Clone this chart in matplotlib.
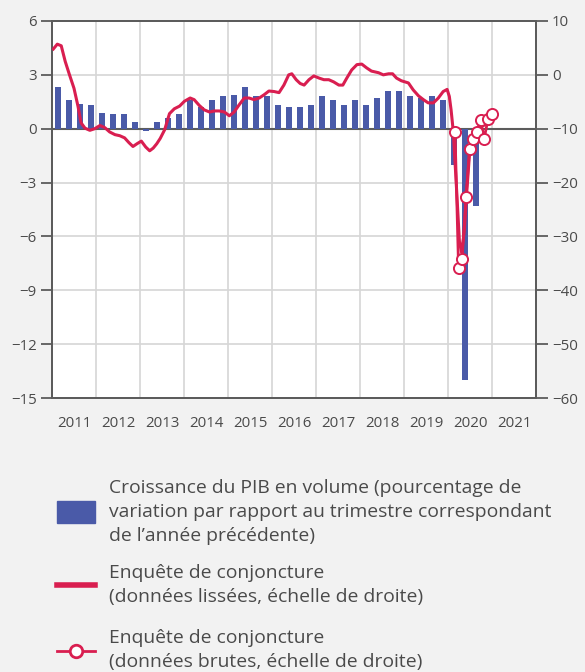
import matplotlib
import matplotlib.pyplot as plt
import numpy as np
from matplotlib.patches import Rectangle
from matplotlib.lines import Line2D

plt.switch_backend('agg')
matplotlib.rcParams['font.family'] = ['Open Sans', 'DejaVu Sans']

# GDP growth, quarterly, 2011Q1 - 2020Q3 (left scale, %)
gdp_start = 2011
gdp_growth = [2.3, 1.6, 1.4, 1.3,
              0.9, 0.8, 0.8, 0.4,
              -0.1, 0.4, 0.6, 0.8,
              1.6, 1.2, 1.6, 1.8,
              1.9, 2.3, 1.8, 1.8,
              1.3, 1.2, 1.2, 1.3,
              1.8, 1.6, 1.3, 1.6,
              1.3, 1.7, 2.1, 2.1,
              1.8, 1.7, 1.8, 1.6,
              -2.0, -14.0, -4.3]

# business survey, smoothed (right scale)
smooth_t = [2011.03, 2011.12, 2011.21, 2011.30, 2011.39, 2011.50, 2011.59, 2011.66, 2011.75, 2011.86,
            2011.97, 2012.09, 2012.20, 2012.31, 2012.43, 2012.54, 2012.65, 2012.75, 2012.84, 2012.93,
            2013.03, 2013.13, 2013.22, 2013.30, 2013.38, 2013.46, 2013.56, 2013.67, 2013.78, 2013.90,
            2014.01, 2014.14, 2014.23, 2014.35, 2014.46, 2014.58, 2014.69, 2014.80, 2014.92, 2015.03,
            2015.14, 2015.25, 2015.37, 2015.48, 2015.59, 2015.71, 2015.82, 2015.93, 2016.05, 2016.16,
            2016.27, 2016.38, 2016.45, 2016.55, 2016.64, 2016.73, 2016.84, 2016.95, 2017.07, 2017.18,
            2017.29, 2017.40, 2017.52, 2017.61, 2017.70, 2017.81, 2017.93, 2018.04, 2018.15, 2018.26,
            2018.42, 2018.53, 2018.65, 2018.74, 2018.83, 2018.94, 2019.10, 2019.21, 2019.33, 2019.44,
            2019.55, 2019.67, 2019.78, 2019.89, 2019.98, 2020.03, 2020.07, 2020.12, 2020.20, 2020.26,
            2020.31, 2020.37, 2020.42, 2020.49, 2020.57, 2020.66, 2020.75, 2020.83]
smooth_v = [4.8, 5.7, 5.4, 2.5, 0.2, -2.5, -5.8, -8.9, -9.9, -10.3,
            -10.0, -9.4, -9.8, -10.6, -11.1, -11.3, -11.7, -12.6, -13.3, -12.8,
            -12.3, -13.4, -14.1, -13.6, -12.8, -11.8, -10.2, -7.2, -6.3, -5.8,
            -4.9, -4.3, -4.6, -5.7, -6.5, -6.9, -6.7, -6.7, -6.9, -7.6,
            -6.9, -5.6, -4.3, -4.3, -4.6, -4.3, -3.7, -3.0, -3.1, -3.3,
            -1.9, 0.0, 0.2, -0.9, -1.6, -1.9, -0.9, -0.2, -0.6, -0.9,
            -0.9, -1.3, -1.9, -1.9, -0.6, 0.9, 1.9, 2.0, 1.3, 0.7,
            0.4, 0.0, 0.2, 0.2, -0.6, -1.1, -1.5, -2.8, -3.9, -4.6,
            -5.2, -5.2, -4.3, -3.1, -2.7, -4.0, -6.5, -10.5, -22.0, -31.0,
            -33.0, -29.0, -22.5, -14.5, -12.0, -10.6, -9.6, -9.3]

# business survey, raw monthly Mar 2020 - Jan 2021 (right scale)
raw_t = [2020.16, 2020.24, 2020.32, 2020.41, 2020.49, 2020.57, 2020.66, 2020.74, 2020.82, 2020.91, 2020.99]
raw_v = [-10.7, -35.9, -34.2, -22.7, -13.7, -11.9, -10.6, -8.3, -11.9, -8.2, -7.3]

years = list(range(2011, 2022))
left_ticks = [-15, -12, -9, -6, -3, 0, 3, 6]
right_ticks = [-60, -50, -40, -30, -20, -10, 0, 10]

blue = '#4a5aa8'
red = '#d91e50'
grey_txt = '#4a4a4a'
spine_c = '#5c5c5c'
grid_c = '#d6d6d6'

W, H = 585, 672
fig = plt.figure(figsize=(W / 100, H / 100), dpi=100, facecolor='#f2f2f2')
ax = fig.add_axes([52 / W, 1 - 398 / H, (536 - 52) / W, (398 - 21) / H])
ax.set_facecolor('white')

gdp_x = gdp_start + (np.arange(len(gdp_growth)) + 0.5) / 4 + 0.02
ax.bar(gdp_x, gdp_growth, width=0.135, color=blue, zorder=3)

ax.set_xlim(2011, 2022)
ax.set_ylim(-15, 6)
ax.set_yticks(left_ticks)
ax.set_yticklabels([str(t).replace('-', '\u2212') for t in left_ticks])
ax.set_xticks(years[1:])
ax.set_xticklabels([])
ax.set_xticks([y + 0.5 for y in years], minor=True)
ax.set_xticklabels([str(y) for y in years], minor=True)
ax.tick_params(axis='x', which='both', length=0)
ax.tick_params(axis='x', which='minor', pad=13, labelsize=10.8, labelcolor=grey_txt)
ax.tick_params(axis='y', length=8, width=1.3, color=spine_c, pad=3, labelsize=10.8, labelcolor=grey_txt)
ax.grid(True, which='major', color=grid_c, lw=1.2, zorder=0)
ax.axhline(0, color=spine_c, lw=1.5, zorder=2)
for s in ax.spines.values():
    s.set_color(spine_c)
    s.set_linewidth(1.4)

ax2 = ax.twinx()
ax2.set_ylim(-60, 10)
ax2.set_yticks(right_ticks)
ax2.set_yticklabels([str(t).replace('-', '\u2212') for t in right_ticks])
ax2.tick_params(axis='y', length=8.5, width=1.3, color=spine_c, pad=3, labelsize=10.8, labelcolor=grey_txt)
for s in ax2.spines.values():
    s.set_color(spine_c)
    s.set_linewidth(1.4)

ax2.plot(smooth_t, smooth_v, color=red, lw=2.2, zorder=4, solid_joinstyle='round')
ax2.plot(raw_t, raw_v, color=red, lw=2.0, marker='o', ms=8, mfc='white', mec=red, mew=1.4, zorder=5)

# legend
def fx(px):
    return px / W

def fy(py):
    return 1 - py / H

fig.patches.append(Rectangle((fx(57), fy(523)), 38 / W, 22 / H, color=blue, transform=fig.transFigure))
fig.lines.append(Line2D([fx(57), fx(95)], [fy(585), fy(585)], color=red, lw=4, transform=fig.transFigure))
fig.lines.append(Line2D([fx(57), fx(76), fx(95)], [fy(651)] * 3, color=red, lw=2, marker='o', markevery=[1],
                        ms=9, mfc='white', mec=red, mew=2, transform=fig.transFigure))

txt_kw = dict(fontsize=13.9, color=grey_txt, va='center', ha='left', linespacing=1.43)
fig.text(fx(109), fy(512), 'Croissance du PIB en volume (pourcentage de\n'
         'variation par rapport au trimestre correspondant\n'
         'de l\u2019ann\u00e9e pr\u00e9c\u00e9dente)', **txt_kw)
fig.text(fx(109), fy(585), 'Enqu\u00eate de conjoncture\n(donn\u00e9es liss\u00e9es, \u00e9chelle de droite)', **txt_kw)
fig.text(fx(109), fy(650), 'Enqu\u00eate de conjoncture\n(donn\u00e9es brutes, \u00e9chelle de droite)', **txt_kw)

plt.savefig('out.png', dpi=100, facecolor=fig.get_facecolor())
